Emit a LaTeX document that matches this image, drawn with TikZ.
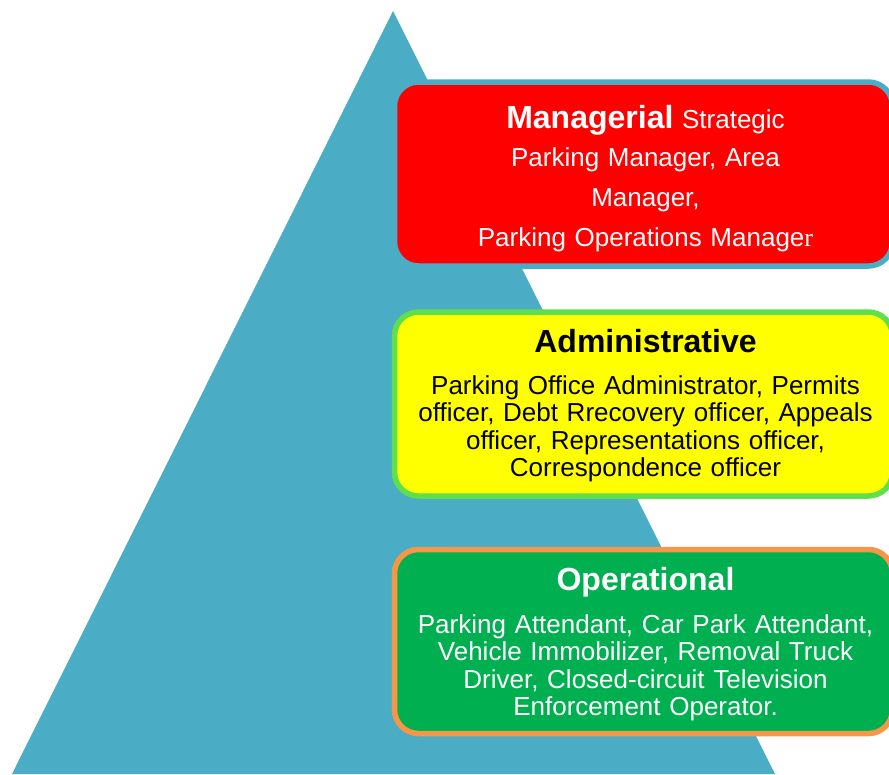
\documentclass[tikz,border=0pt]{standalone}
\usepackage{fontspec}
\setmainfont{Liberation Sans}
\newfontfamily\serifr{Liberation Serif}
\usepackage{tikz}
\definecolor{pyramid}{HTML}{4BACC6}
\definecolor{mgrred}{HTML}{FF0000}
\definecolor{admyellow}{HTML}{FFFF00}
\definecolor{admborder}{HTML}{5FDF4C}
\definecolor{opgreen}{HTML}{00B050}
\definecolor{opborder}{HTML}{F79646}

\begin{document}
\begin{tikzpicture}[x=1pt, y=-1pt,
  tier/.style={draw, line width=5.5pt, rounded corners=24pt, minimum width=498pt, minimum height=184pt, text width=484pt, align=center, inner sep=0pt, font=\fontsize{26}{27.5}\selectfont}]
\useasboundingbox (0,0) rectangle (889,774);
\clip (0,0) rectangle (889,774);

\coordinate (apex) at (393,11);
\coordinate (baseright) at (775,774);
\coordinate (baseleft) at (12,774);
\fill [pyramid] (apex) -- (baseright) -- (baseleft) -- cycle;

\node [tier, draw=pyramid, fill=mgrred, text=white, font=\fontsize{26}{40}\selectfont] (managerial) at (643.5,174) {\hspace*{4pt}\rule{0pt}{33.3pt}{\fontsize{32}{40}\selectfont\bfseries Managerial} Strategic\\[-2pt]\hspace*{4pt}Parking Manager, Area\\\hspace*{4pt}Manager,\\\hspace*{4pt}Parking Operations Manage{\serifr r}};

\node [tier, draw=admborder, fill=admyellow, text=black] (administrative) at (643.5,404) {\hspace*{4pt}\rule{0pt}{27.3pt}{\fontsize{32}{32}\selectfont\bfseries Administrative}\\[14pt]\hspace*{4pt}Parking Office Administrator, Permits\\\hspace*{4pt}officer, Debt Rrecovery officer, Appeals\\\hspace*{4pt}officer, Representations officer,\\\hspace*{4pt}Correspondence officer};

\node [tier, draw=opborder, fill=opgreen, text=white] (operational) at (643.5,641.5) {\hspace*{4pt}\rule{0pt}{28.7pt}{\fontsize{32}{32}\selectfont\bfseries Operational}\\[15pt]\hspace*{4pt}Parking Attendant, Car Park Attendant,\\\hspace*{4pt}Vehicle Immobilizer, Removal Truck\\\hspace*{4pt}Driver, Closed-circuit Television\\\hspace*{4pt}Enforcement Operator.};
\end{tikzpicture}
\end{document}
